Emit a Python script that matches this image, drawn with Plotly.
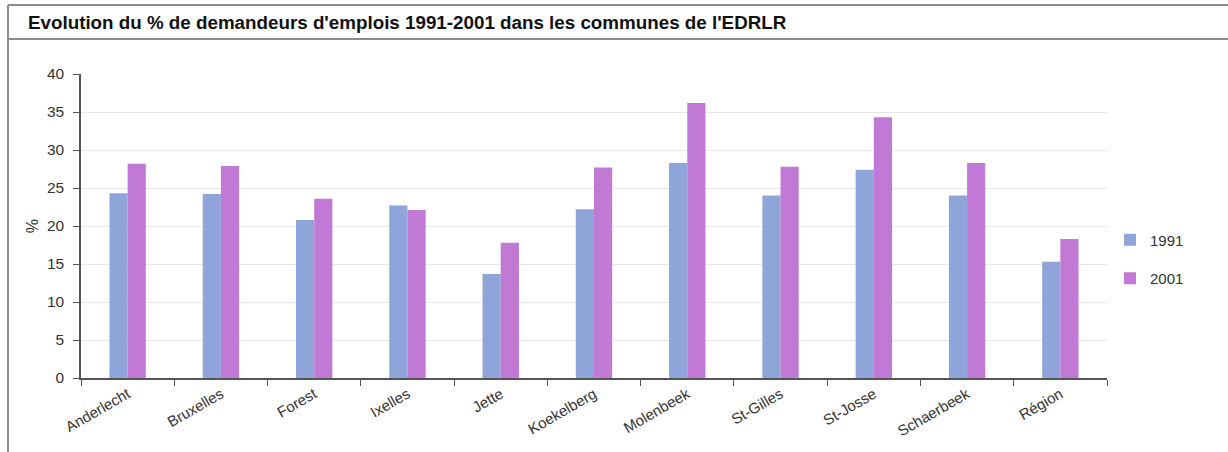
import plotly.graph_objects as go

categories = ["Anderlecht", "Bruxelles", "Forest", "Ixelles", "Jette", "Koekelberg",
              "Molenbeek", "St-Gilles", "St-Josse", "Schaerbeek", "Région"]
values_1991 = [24.3, 24.2, 20.8, 22.7, 13.7, 22.2, 28.3, 24.0, 27.4, 24.0, 15.3]
values_2001 = [28.2, 27.9, 23.6, 22.1, 17.8, 27.7, 36.2, 27.8, 34.3, 28.3, 18.3]
series_names = ["1991", "2001"]
y_ticks = [0, 5, 10, 15, 20, 25, 30, 35, 40]

W, H = 1228, 452
L, R, T, B = 81, 1107, 74, 378

def px(x):
    return (x - L) / (R - L)

def py(y):
    return (B - y) / (B - T)

fig = go.Figure()
fig.add_trace(go.Bar(x=categories, y=values_1991, name=series_names[0],
                     marker=dict(color="#8fa5d9", line=dict(width=0)),
                     legendgroup="a"))
fig.add_trace(go.Bar(x=categories, y=values_2001, name=series_names[1],
                     marker=dict(color="#c07ad6", line=dict(width=0)),
                     legendgroup="b"))

frame = dict(color="#8c8c8c", width=2)
shapes = [
    dict(type="line", xref="paper", yref="paper", x0=px(8), x1=px(1228), y0=py(5), y1=py(5), line=frame),
    dict(type="line", xref="paper", yref="paper", x0=px(8), x1=px(1228), y0=py(39), y1=py(39), line=frame),
    dict(type="line", xref="paper", yref="paper", x0=px(8), x1=px(8), y0=py(5), y1=py(452), line=frame),
]

fig.update_layout(
    width=W, height=H,
    margin=dict(l=L, r=W - R, t=T, b=H - B),
    paper_bgcolor="white", plot_bgcolor="white",
    barmode="group", bargap=0.61, bargroupgap=0,
    font=dict(family="Liberation Sans, Arial, sans-serif", color="#333333", size=14),
    shapes=shapes,
    annotations=[dict(
        text="<b>Evolution du % de demandeurs d'emplois 1991-2001 dans les communes de l'EDRLR</b>",
        xref="paper", yref="paper", x=px(26), y=py(22), xanchor="left", yanchor="middle",
        showarrow=False, font=dict(size=18.8, color="#111111"))],
    xaxis=dict(
        showline=True, linecolor="#555555", linewidth=1.5,
        ticks="outside", tickson="boundaries", ticklen=6, tickcolor="#555555",
        tickangle=-30, tickfont=dict(size=15, color="#333333"),
        showgrid=False,
    ),
    yaxis=dict(
        range=[0, 40], tickvals=y_ticks,
        showline=True, linecolor="#555555", linewidth=1.5,
        ticks="outside", ticklen=6, tickcolor="#555555",
        ticklabelstandoff=6,
        tickfont=dict(size=15.5, color="#333333"),
        showgrid=True, gridcolor="#e8e8e8", gridwidth=1,
        zeroline=False,
        title=dict(text="%", standoff=4, font=dict(size=16, color="#333333")),
    ),
    legend=dict(
        x=px(1110), y=py(259), xanchor="left", yanchor="middle",
        traceorder="grouped", tracegroupgap=16,
        font=dict(size=15, color="#333333"), bgcolor="rgba(0,0,0,0)",
    ),
)

fig.write_html("out.html")
